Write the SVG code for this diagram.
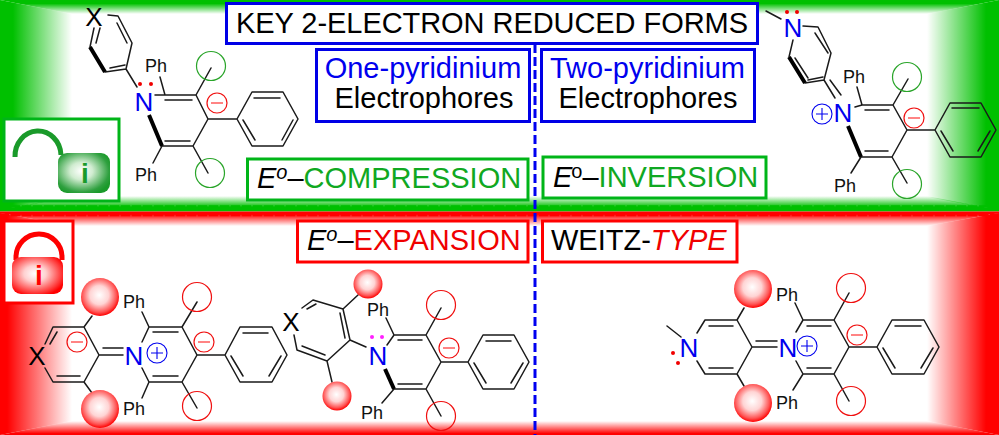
<svg xmlns="http://www.w3.org/2000/svg" width="999" height="435" viewBox="0 0 999 435">
<style>
text{font-family:"Liberation Sans",Arial,sans-serif;fill:#000}
.t{font-size:29px}
.ph{font-size:18px;text-anchor:middle;fill:#111}
.x{font-size:26px;text-anchor:middle;fill:#000}
.n{font-size:26px;text-anchor:middle;fill:#0000ee}
.b{fill:none;stroke:#1a1a1a;stroke-width:1.5;stroke-linecap:round;stroke-linejoin:round}
.w{fill:none;stroke:#000;stroke-width:4;stroke-linecap:butt}
.bb{fill:#fff;stroke:#0000e6;stroke-width:3}
.gb{fill:#fff;stroke:#00b518;stroke-width:3}
.rb{fill:#fff;stroke:#ff0000;stroke-width:3}
.gc{fill:none;stroke:#2aa52a;stroke-width:1.2}
.rc{fill:none;stroke:#f01010;stroke-width:1.2}
.mc{fill:none;stroke:#f01010;stroke-width:1.2}
.ml{stroke:#f77;stroke-width:1.8}
.pc{fill:none;stroke:#0000ee;stroke-width:1.1}
.green{fill:#10a822}.red{fill:#f00000}
.rd{fill:#f00000}.mg{fill:#ff20ff}
.s{fill:url(#sph)}
</style>
<defs>
<linearGradient id="gl" gradientUnits="userSpaceOnUse" x1="0" y1="0" x2="72" y2="0"><stop offset=".18" stop-color="#00c000"/><stop offset="1" stop-color="#00c000" stop-opacity="0"/></linearGradient>
<linearGradient id="gr" gradientUnits="userSpaceOnUse" x1="999" y1="0" x2="927" y2="0"><stop offset=".18" stop-color="#00c000"/><stop offset="1" stop-color="#00c000" stop-opacity="0"/></linearGradient>
<linearGradient id="gt" gradientUnits="userSpaceOnUse" x1="0" y1="0" x2="0" y2="14"><stop offset=".25" stop-color="#00c000"/><stop offset="1" stop-color="#00c000" stop-opacity="0"/></linearGradient>
<linearGradient id="gb" gradientUnits="userSpaceOnUse" x1="0" y1="209" x2="0" y2="196"><stop offset=".15" stop-color="#00c000"/><stop offset="1" stop-color="#00c000" stop-opacity="0"/></linearGradient>
<linearGradient id="rl" gradientUnits="userSpaceOnUse" x1="0" y1="0" x2="72" y2="0"><stop offset=".1" stop-color="#ff0000"/><stop offset="1" stop-color="#ff0000" stop-opacity="0"/></linearGradient>
<linearGradient id="rr" gradientUnits="userSpaceOnUse" x1="999" y1="0" x2="927" y2="0"><stop offset=".18" stop-color="#ff0000"/><stop offset="1" stop-color="#ff0000" stop-opacity="0"/></linearGradient>
<linearGradient id="rt" gradientUnits="userSpaceOnUse" x1="0" y1="213" x2="0" y2="226"><stop offset=".1" stop-color="#ff0000"/><stop offset="1" stop-color="#ff0000" stop-opacity="0"/></linearGradient>
<linearGradient id="rb" gradientUnits="userSpaceOnUse" x1="0" y1="435" x2="0" y2="421"><stop offset=".1" stop-color="#ff0000"/><stop offset="1" stop-color="#ff0000" stop-opacity="0"/></linearGradient>
<radialGradient id="sph" cx=".48" cy=".45" r=".55"><stop offset="0" stop-color="#fff"/><stop offset=".45" stop-color="#ffd4d4"/><stop offset=".82" stop-color="#f55"/><stop offset="1" stop-color="#f00"/></radialGradient>
<radialGradient id="lg" cx=".45" cy=".45" r=".62"><stop offset="0" stop-color="#fff"/><stop offset=".35" stop-color="#d0ecd0"/><stop offset=".85" stop-color="#2fa03f"/><stop offset="1" stop-color="#1a9a2a"/></radialGradient>
<radialGradient id="lr" cx=".45" cy=".45" r=".62"><stop offset="0" stop-color="#fff"/><stop offset=".35" stop-color="#ffd0d0"/><stop offset=".85" stop-color="#f33"/><stop offset="1" stop-color="#f00"/></radialGradient>
</defs>

<g id="background">
<rect width="999" height="435" fill="#fff"/>
<polygon points="0,0 72,14 72,197 0,210" fill="url(#gl)"/>
<polygon points="999,0 927,14 927,197 999,210" fill="url(#gr)"/>
<polygon points="0,0 999,0 927,14 72,14" fill="url(#gt)"/>
<polygon points="0,210 72,196 927,196 999,210" fill="url(#gb)"/>
<rect x="0" y="208" width="999" height="3.500" fill="#00c000"/>
<polygon points="0,213 72,226 72,421 0,435" fill="url(#rl)"/>
<polygon points="999,213 927,226 927,421 999,435" fill="url(#rr)"/>
<polygon points="0,213 999,213 927,226 72,226" fill="url(#rt)"/>
<polygon points="0,435 72,421 927,421 999,435" fill="url(#rb)"/>
<rect x="0" y="211.500" width="999" height="2" fill="#ff0000"/>
</g>

<g id="connectors" fill="none">
<line x1="0" y1="206.500" x2="999" y2="206.500" stroke="#00c000" stroke-width="2.500" stroke-dasharray="9 2"/>
<line x1="0" y1="215" x2="999" y2="215" stroke="#ff0000" stroke-width="2.500" stroke-dasharray="9 2"/>
<line x1="535" y1="44" x2="535" y2="435" stroke="#0000f0" stroke-width="3" stroke-dasharray="9 4"/>
</g>

<g id="title"><rect class="bb" x="226.500" y="3.500" width="531" height="40"/><text class="t" x="492" y="32.500" text-anchor="middle" textLength="512">KEY 2-ELECTRON REDUCED FORMS</text></g>
<g id="box-one"><rect class="bb" x="316.500" y="49.500" width="213" height="72"/><text class="t" x="423" y="78" text-anchor="middle" style="fill:#0000ee">One-pyridinium</text><text class="t" x="424" y="108" text-anchor="middle">Electrophores</text></g>
<g id="box-two"><rect class="bb" x="541.500" y="49.500" width="213" height="72"/><text class="t" x="647.500" y="78" text-anchor="middle" style="fill:#0000ee">Two-pyridinium</text><text class="t" x="648" y="108" text-anchor="middle">Electrophores</text></g>
<g id="box-compression"><rect class="gb" x="247.500" y="159" width="280.500" height="41"/><text class="t" x="257" y="188"><tspan font-style="italic">E</tspan><tspan font-style="italic" dy="-9" font-size="20">o</tspan><tspan dy="9">–</tspan><tspan class="green">COMPRESSION</tspan></text></g>
<g id="box-inversion"><rect class="gb" x="543" y="157" width="223" height="41"/><text class="t" x="553" y="187"><tspan font-style="italic">E</tspan><tspan dy="-9" font-size="20" dx="-1">o</tspan><tspan dy="9">–</tspan><tspan class="green">INVERSION</tspan></text></g>
<g id="box-expansion"><rect class="rb" x="297.500" y="221" width="230.500" height="41"/><text class="t" x="307" y="250"><tspan font-style="italic">E</tspan><tspan font-style="italic" dy="-9" font-size="20">o</tspan><tspan dy="9">–</tspan><tspan class="red">EXPANSION</tspan></text></g>
<g id="box-weitz"><rect class="rb" x="542.500" y="221" width="194.500" height="41"/><text class="t" x="551" y="250">WEITZ-<tspan class="red" font-style="italic">TYPE</tspan></text></g>

<g id="lock-open">
<rect x="4" y="119" width="115" height="82" fill="#fff" stroke="#00b518" stroke-width="3"/>
<path d="M15 157 A23 25 0 0 1 61 155" fill="none" stroke="#1a9a2a" stroke-width="5"/>
<rect x="58" y="153" width="52" height="40" rx="9" fill="url(#lg)"/>
<text x="85" y="183" font-size="28" font-weight="bold" text-anchor="middle" style="fill:#1a9a2a">i</text>
</g>
<g id="lock-closed">
<rect x="4" y="221" width="69" height="82" fill="#fff" stroke="#ff0000" stroke-width="3"/>
<path d="M16 260 V257 A23 23 0 0 1 62 257 V260" fill="none" stroke="#ff0000" stroke-width="5"/>
<rect x="12" y="257" width="51" height="37" rx="9" fill="url(#lr)"/>
<text x="39" y="285" font-size="28" font-weight="bold" text-anchor="middle" style="fill:#f00">i</text>
</g>

<g id="mol-one-green">
<path class="b" d="M137 87L126 69L132 43L118 16L108 15M94 28L90 47M126 69L105 72M127 43L117 23M100 28L96 43M110 68L125 65M160 77L165 95L196 95L208 119L193 146L162 146L153 163M155 95L165 95M165 100L192 100M165 141L190 141M196 95L211 68M193 146L208 173M208 119L237 119L252 92L283 92L298 119L283 146L252 146L237 119M254 98L280 98M243 120L255 140M293 120L282 140"/>
<path class="w" d="M90 47L105 72M149 115L162 146"/>
<text class="x" x="94" y="26">X</text><text class="n" x="144" y="111">N</text>
<circle class="rd" cx="140" cy="84" r="2"/><circle class="rd" cx="151" cy="84" r="2"/>
<text class="ph" x="156" y="72">Ph</text><text class="ph" x="146" y="181">Ph</text>
<circle class="gc" cx="211" cy="66" r="14.500"/><circle class="gc" cx="210" cy="173" r="14.500"/>
<circle class="mc" cx="217" cy="103" r="10"/><line class="ml" x1="211" y1="103" x2="223" y2="103"/>
</g>

<g id="mol-two-green">
<path class="b" d="M766 11L781 19M803 26L818 27L831 53L824 80L805 83M793 40L789 57M815 33L828 53M795 58L808 78M808 80L823 77M824 80L835 98M830 80L841 95M857 87L862 105L893 105L907 130L892 157L861 157L851 173M855 107L862 105M865 110L889 110M865 151L888 151M893 105L908 79M892 157L907 183M907 130L935 130L950 103L981 103L996 130L981 157L950 157L935 130M952 108L979 108M941 131L953 151M990 131L978 151"/>
<path class="w" d="M789 57L805 83M848 126L861 157"/>
<text class="n" x="793" y="37">N</text><text class="n" x="843" y="122">N</text>
<circle class="rd" cx="787" cy="12" r="2"/><circle class="rd" cx="797" cy="12" r="2"/>
<circle class="pc" cx="822" cy="114" r="10"/><path class="pc" d="M816 114H828M822 108V120"/>
<text class="ph" x="854" y="83">Ph</text><text class="ph" x="845" y="192">Ph</text>
<circle class="gc" cx="907" cy="77" r="14.500"/><circle class="gc" cx="907" cy="184" r="14.500"/>
<circle class="mc" cx="914" cy="118" r="10"/><line class="ml" x1="908" y1="118" x2="920" y2="118"/>
</g>

<g id="mol-one-red-a">
<path class="b" d="M45 344L53 327L84 327L99 355L84 382L53 382L45 368M50 344L57 332M57 376L80 376M99 355L123 355M103 348L123 348M84 327L92 316M84 382L92 393M142 342L149 327L182 327L197 355L182 382L149 382L142 368M153 332L178 332M153 376L178 376M142 312L149 327M149 382L142 398M182 327L197 302M182 382L197 408M197 355L225 355L240 327L272 327L287 355L272 382L240 382L225 355M243 333L268 333M231 356L243 376M281 356L269 376"/>
<circle class="s" cx="100" cy="297" r="19"/><circle class="s" cx="100" cy="409" r="19"/>
<text class="x" x="37" y="365">X</text><text class="n" x="134" y="365">N</text>
<circle class="pc" cx="157" cy="353" r="10"/><path class="pc" d="M151 353H163M157 347V359"/>
<text class="ph" x="134" y="308">Ph</text><text class="ph" x="134" y="415">Ph</text>
<circle class="rc" cx="197" cy="297" r="14.500"/><circle class="rc" cx="197" cy="406" r="14.500"/>
<circle class="mc" cx="77" cy="342" r="10"/><line class="ml" x1="71" y1="342" x2="83" y2="342"/>
<circle class="mc" cx="204" cy="342" r="10"/><line class="ml" x1="198" y1="342" x2="210" y2="342"/>
</g>

<g id="mol-one-red-b">
<path class="b" d="M366 347L350 340L343 309L313 300L302 308M294 335L297 350L327 361L350 340M340 313L345 338M307 309L316 304M302 346L325 355M343 309L358 295M327 361L332 382M386 318L394 335L426 335L441 362L426 389L394 389L382 403M387 345L394 335M398 340L422 340M398 384L422 384M426 335L441 308M426 389L441 416M441 362L468 362L483 335L514 335L529 362L514 389L483 389L468 362M486 341L511 341M474 363L486 383M523 363L511 383"/>
<path class="w" d="M385 369L394 389"/>
<circle class="s" cx="368" cy="284" r="14.500"/><circle class="s" cx="337" cy="396" r="14.500"/>
<text class="x" x="291" y="331">X</text><text class="n" x="378" y="365">N</text>
<circle class="mg" cx="372" cy="337" r="2"/><circle class="mg" cx="382" cy="337" r="2"/>
<text class="ph" x="378" y="316">Ph</text><text class="ph" x="372" y="419">Ph</text>
<circle class="rc" cx="441" cy="305" r="14.500"/><circle class="rc" cx="441" cy="416" r="14.500"/>
<circle class="mc" cx="449" cy="348" r="10"/><line class="ml" x1="443" y1="348" x2="455" y2="348"/>
</g>

<g id="mol-two-red">
<path class="b" d="M667 326L681 337M697 333L705 320L737 320L752 347L737 374L705 374L697 361M709 326L733 326M709 368L733 368M752 347L777 347M756 341L777 341M737 320L744 308M737 374L744 386M795 303L803 320L834 320L849 347L834 374L803 374L793 390M796 332L803 320M796 361L803 374M807 326L831 326M807 368L831 368M834 320L849 293M834 374L849 401M849 347L877 347L892 320L924 320L939 347L924 374L892 374L877 347M895 326L921 326M883 348L895 368M933 348L921 368"/>
<circle class="s" cx="753" cy="289" r="19"/><circle class="s" cx="753" cy="403" r="19"/>
<text class="n" x="689" y="357">N</text><text class="n" x="788" y="357">N</text>
<circle class="rd" cx="673" cy="353" r="2"/><circle class="rd" cx="678" cy="363" r="2"/>
<circle class="pc" cx="807" cy="346" r="10"/><path class="pc" d="M801 346H813M807 340V352"/>
<text class="ph" x="787" y="301">Ph</text><text class="ph" x="787" y="409">Ph</text>
<circle class="rc" cx="851" cy="288" r="14.500"/><circle class="rc" cx="851" cy="401" r="14.500"/>
<circle class="mc" cx="857" cy="335" r="10"/><line class="ml" x1="851" y1="335" x2="863" y2="335"/>
</g>
</svg>
